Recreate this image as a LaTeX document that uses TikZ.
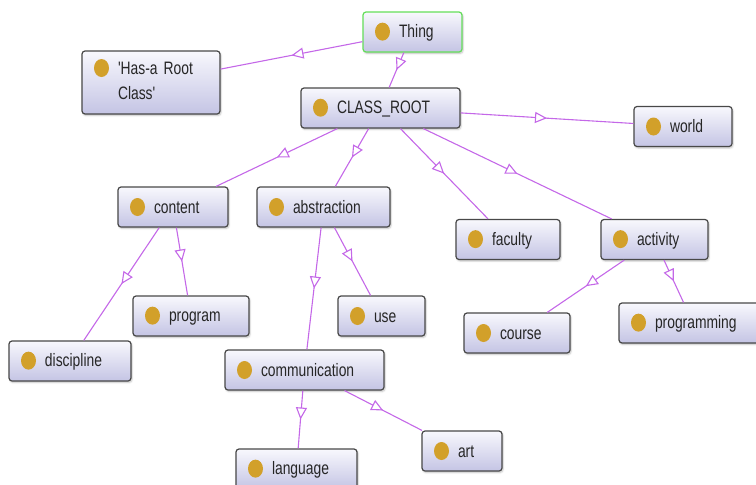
\documentclass[tikz,border=0pt]{standalone}
\usepackage{fontspec}
\usepackage{xcolor}
\usetikzlibrary{arrows.meta, decorations.markings, shadows.blur}

\newfontfamily\graffont{Liberation Sans}[FakeStretch=0.77, Ligatures=TeXOff]

\definecolor{edgeviolet}{RGB}{196,104,232}
\definecolor{bulbgold}{RGB}{210,160,42}
\definecolor{boxtop}{RGB}{248,248,253}
\definecolor{boxbottom}{RGB}{196,196,228}
\definecolor{boxborder}{RGB}{72,72,72}
\definecolor{thinggreen}{RGB}{100,222,90}
\definecolor{textgray}{RGB}{38,38,38}

\newcommand{\bulb}{\tikz[baseline={(0,-6pt)}]\fill[bulbgold] (0,0) ellipse (7.5pt and 9pt);}

\tikzset{
	cls/.style={rectangle, rounded corners=3pt, draw=boxborder, line width=1.2pt,
		top color=boxtop, bottom color=boxbottom, minimum height=40pt,
		inner xsep=12pt, inner ysep=0pt, align=left, text=textgray,
		font=\graffont\fontsize{18}{21.6}\selectfont,
		blur shadow={shadow xshift=1pt, shadow yshift=-1.5pt, shadow blur steps=4, shadow opacity=25}},
	isa/.style={color=edgeviolet, line width=1.1pt, postaction={decorate},
		decoration={markings, mark=at position 0.5 with {\arrow{Triangle[fill=white, length=12pt, width=11pt]}}}}
}

\begin{document}
\begin{tikzpicture}[x=1pt, y=-1pt]
				\useasboundingbox (0,0) rectangle (756,485);
				
				\node (thing) at (412.5,32) [cls, draw=thinggreen, text width=75pt] {\bulb\hspace{9pt}Thing};
				\node (hasroot) at (151,82.5) [cls, minimum height=63pt, text width=114pt] {\bulb\hspace{9pt}\begin{tabular}[t]{@{}l@{}}'Has-a Root\\[4pt]Class'\end{tabular}};
				\node (root) at (380.5,108) [cls, text width=135pt] {\bulb\hspace{9pt}CLASS\_ROOT};
				\node (world) at (683,126.5) [cls, text width=74pt] {\bulb\hspace{9pt}world};
				
				\node (content) at (173,207) [cls, text width=86pt] {\bulb\hspace{9pt}content};
				\node (abstraction) at (323.5,207) [cls, text width=109pt] {\bulb\hspace{9pt}abstraction};
				\node (faculty) at (508,239.5) [cls, text width=80pt] {\bulb\hspace{9pt}faculty};
				\node (activity) at (654.5,239.5) [cls, text width=83pt] {\bulb\hspace{9pt}activity};
				
				\node (program) at (191,316) [cls, text width=92pt] {\bulb\hspace{9pt}program};
				\node (use) at (381.5,316) [cls, text width=63pt] {\bulb\hspace{9pt}use};
				\node (discipline) at (70,361) [cls, text width=98pt] {\bulb\hspace{9pt}discipline};
				\node (course) at (517,333) [cls, text width=82pt] {\bulb\hspace{9pt}course};
				\node (programming) at (693,323) [cls, text width=124pt] {\bulb\hspace{9pt}programming};
				
				\node (communication) at (304.5,370) [cls, text width=135pt] {\bulb\hspace{9pt}communication};
				\node (language) at (296.5,469) [cls, text width=97pt] {\bulb\hspace{9pt}language};
				\node (art) at (462,451) [cls, text width=56pt] {\bulb\hspace{9pt}art};
				
				\draw[isa] (thing) -- (hasroot);
				\draw[isa] (thing) -- (root);
				\draw[isa] (root) -- (world);
				\draw[isa] (root) -- (content);
				\draw[isa] (root) -- (abstraction);
				\draw[isa] (root) -- (faculty);
				\draw[isa] (root) -- (activity);
				\draw[isa] (content) -- (discipline);
				\draw[isa] (content) -- (program);
				\draw[isa] (abstraction) -- (communication);
				\draw[isa] (abstraction) -- (use);
				\draw[isa] (activity) -- (course);
				\draw[isa] (activity) -- (programming);
				\draw[isa] (communication) -- (language);
				\draw[isa] (communication) -- (art);
			\end{tikzpicture}
\end{document}
